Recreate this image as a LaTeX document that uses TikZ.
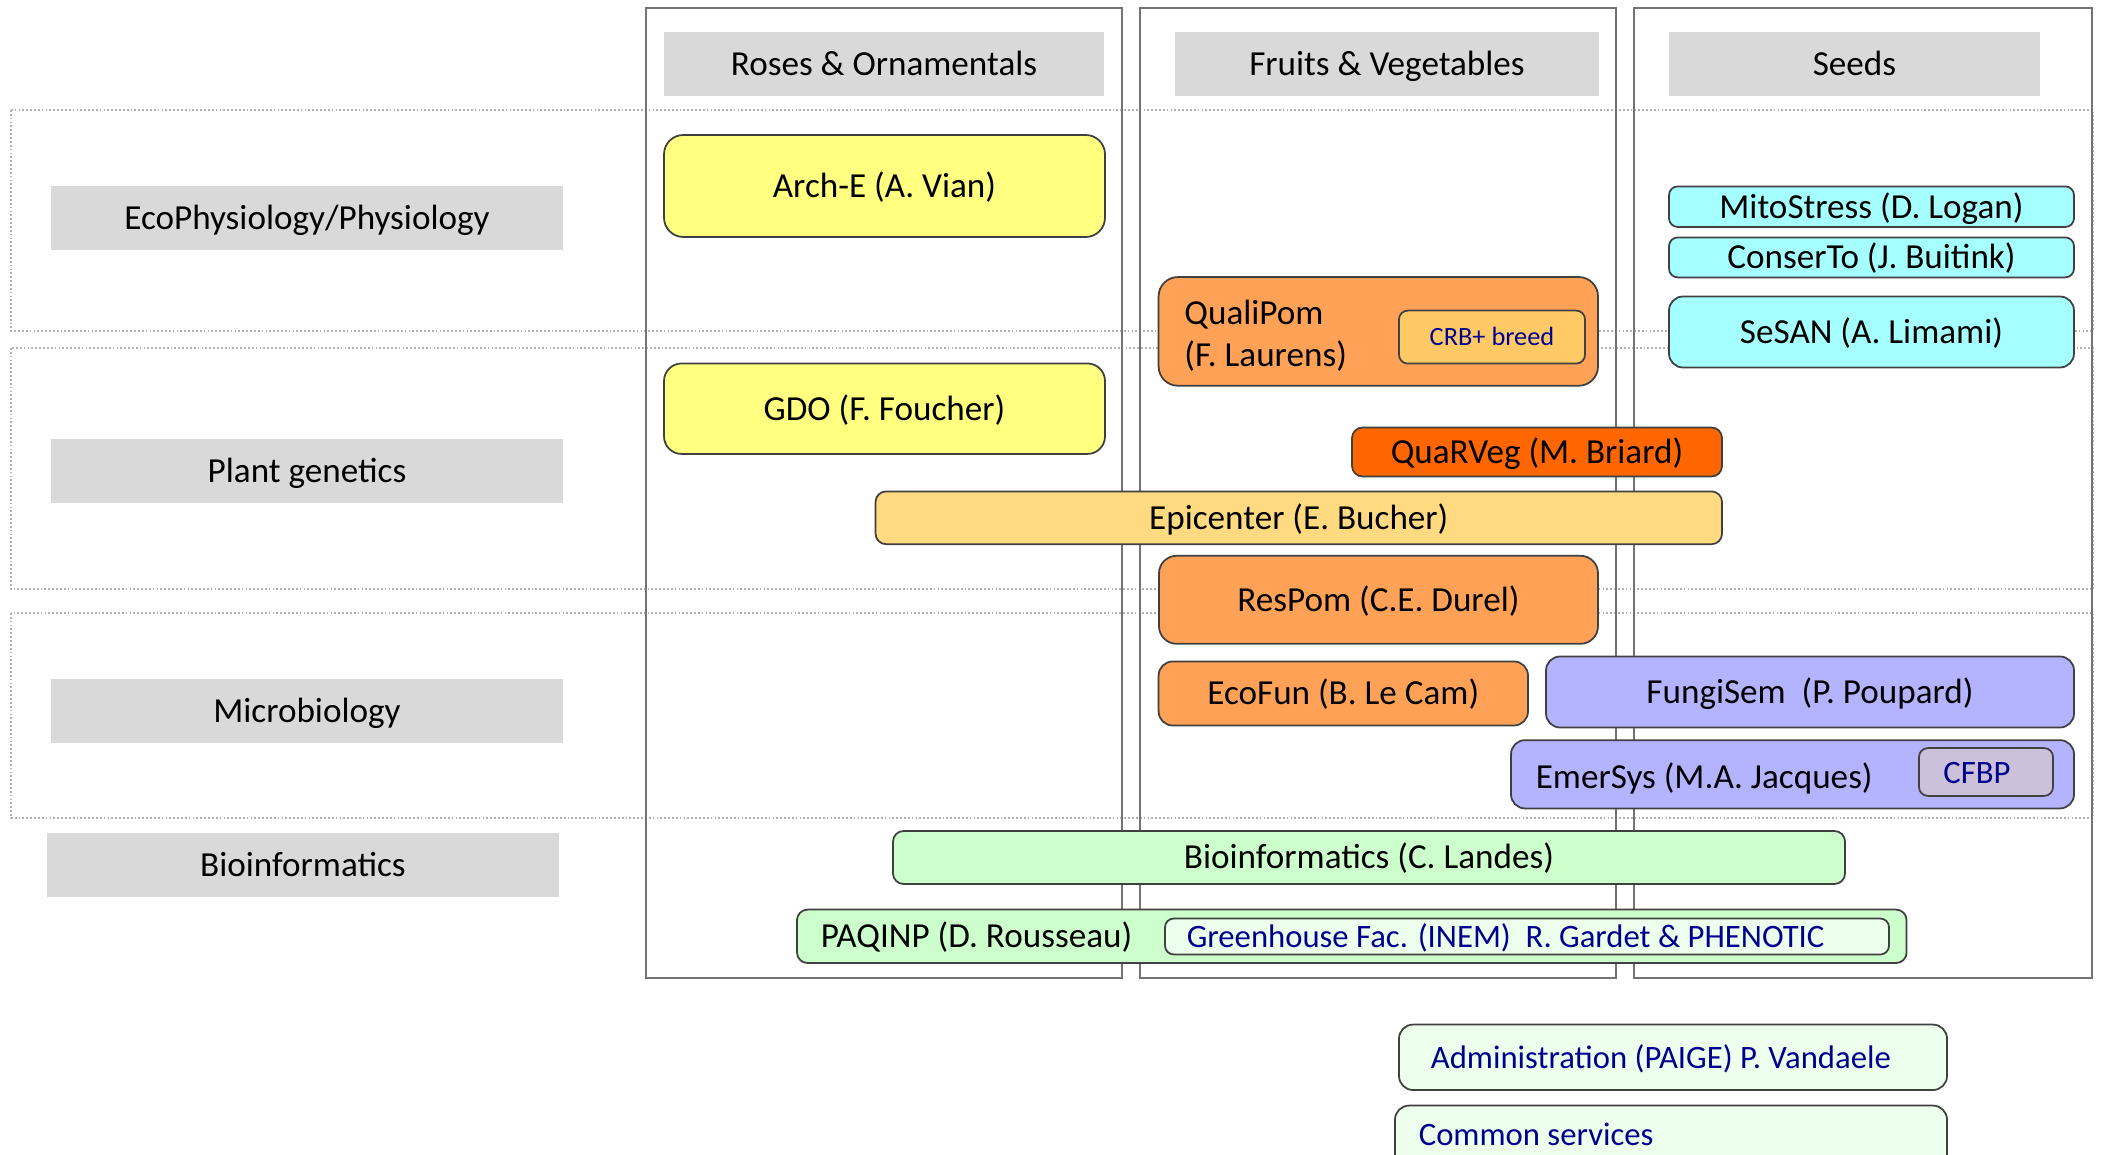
\documentclass[tikz,border=0pt]{standalone}
\usepackage{fontspec}
\setmainfont{Carlito}
\usepackage{xcolor}
\usepackage{tikz}
\usetikzlibrary{positioning}
\definecolor{headgrey}{HTML}{D9D9D9}
\definecolor{roseyellow}{HTML}{FFFF80}
\definecolor{pomorange}{HTML}{FFA257}
\definecolor{crbfill}{HTML}{FFCA66}
\definecolor{vegorange}{HTML}{FF6600}
\definecolor{epigold}{HTML}{FFDA80}
\definecolor{seedcyan}{HTML}{A6FFFF}
\definecolor{microlav}{HTML}{B3B3FF}
\definecolor{cfbpfill}{HTML}{CCC1DA}
\definecolor{bioinfgreen}{HTML}{CCFFCC}
\definecolor{facgreen}{HTML}{EDFFED}
\definecolor{facblue}{HTML}{000090}
\newcommand{\smallsize}{\fontsize{9.3}{11}\selectfont}

\begin{document}
\begin{tikzpicture}[
  frame/.style={draw=black!55,line width=0.5pt},
  band/.style={draw=black!30,line width=0.4pt,dash pattern=on 0.5pt off 0.6pt},
  capline/.style={text height=6.5pt,text depth=0pt},
  head/.style={fill=headgrey,inner sep=0pt,minimum height=0.64cm,capline},
  proj/.style={draw=black!75,line width=0.5pt,rounded corners=4pt,inner sep=0pt,capline},
  inner/.style={proj,rounded corners=2.5pt},
  txt/.style={inner sep=0pt},
  service/.style={text=facblue,font=\smallsize}]
\clip (0,0) rectangle (21.01,-11.55);

\draw[band] (0.11,-1.10) rectangle (20.93,-3.31);
\draw[band] (0.11,-3.48) rectangle (20.93,-5.89);
\draw[band] (0.11,-6.13) rectangle (20.93,-8.18);
\draw[frame] (6.46,-0.08) rectangle (11.22,-9.78);
\draw[frame] (11.40,-0.08) rectangle (16.16,-9.78);
\draw[frame] (16.34,-0.08) rectangle (20.92,-9.78);

\node[head,minimum width=4.40cm] (roses) at (8.84,-0.64) {Roses \& Ornamentals};
\node[head,minimum width=4.24cm] (fruits) at (13.87,-0.64) {Fruits \& Vegetables};
\node[head,minimum width=3.71cm] (seeds) at (18.545,-0.64) {Seeds};
\node[head,minimum width=5.12cm] (ecophys) at (3.07,-2.18) {EcoPhysiology/Physiology};
\node[head,minimum width=5.12cm] (genetics) at (3.07,-4.71) {Plant genetics};
\node[head,minimum width=5.12cm] (micro) at (3.07,-7.11) {Microbiology};
\node[head,minimum width=5.12cm] (bioinf) at (3.03,-8.65) {Bioinformatics};

\node[proj,fill=roseyellow,minimum width=4.41cm,minimum height=1.02cm,rounded corners=5.5pt] (arche) at (8.845,-1.86) {Arch-E (A. Vian)};
\node[proj,fill=roseyellow,minimum width=4.41cm,minimum height=0.905cm,rounded corners=5pt] (gdo) at (8.845,-4.087) {GDO (F. Foucher)};

\node[proj,fill=pomorange,minimum width=4.394cm,minimum height=1.087cm,rounded corners=5.5pt] (qualipom) at (13.783,-3.314) {};
\node[txt,align=left,right=0.26cm of qualipom.west,yshift=-0.04cm] (qualipom-t) {QualiPom\\(F. Laurens)};
\node[inner,fill=crbfill,minimum width=1.86cm,minimum height=0.53cm,text=facblue,font=\fontsize{7.5}{9}\selectfont,text height=4.9pt] (crb) at (14.92,-3.371) {CRB+ breed};

\node[proj,fill=seedcyan,minimum width=4.05cm,minimum height=0.406cm,rounded corners=2.5pt] (mito) at (18.715,-2.067) {MitoStress (D. Logan)};
\node[proj,fill=seedcyan,minimum width=4.05cm,minimum height=0.40cm,rounded corners=2.5pt] (conserto) at (18.715,-2.574) {ConserTo (J. Buitink)};
\node[proj,fill=seedcyan,minimum width=4.05cm,minimum height=0.71cm] (sesan) at (18.715,-3.32) {SeSAN (A. Limami)};

\node[proj,fill=vegorange,minimum width=3.70cm,minimum height=0.49cm,rounded corners=3pt] (quarveg) at (15.37,-4.52) {QuaRVeg (M. Briard)};
\node[proj,fill=epigold,minimum width=8.465cm,minimum height=0.528cm,rounded corners=3pt] (epicenter) at (12.988,-5.178) {Epicenter (E. Bucher)};
\node[proj,fill=pomorange,minimum width=4.39cm,minimum height=0.88cm,rounded corners=5pt] (respom) at (13.785,-5.998) {ResPom (C.E. Durel)};
\node[proj,fill=pomorange,minimum width=3.694cm,minimum height=0.64cm] (ecofun) at (13.433,-6.935) {EcoFun (B. Le Cam)};

\node[proj,fill=microlav,minimum width=5.28cm,minimum height=0.71cm] (fungisem) at (18.10,-6.92) {FungiSem\ \ (P. Poupard)};
\node[proj,fill=microlav,minimum width=5.63cm,minimum height=0.683cm] (emersys) at (17.925,-7.743) {};
\node[txt,capline,right=0.25cm of emersys.west,yshift=-0.03cm] (emersys-t) {EmerSys (M.A. Jacques)};
\node[inner,fill=cfbpfill,minimum width=1.34cm,minimum height=0.478cm] (cfbp) at (19.86,-7.72) {};
\node[txt,capline,service,right=0.245cm of cfbp.west] (cfbp-t) {CFBP};

\node[proj,fill=bioinfgreen,minimum width=9.52cm,minimum height=0.53cm,rounded corners=3pt] (landes) at (13.69,-8.575) {Bioinformatics (C. Landes)};
\node[proj,fill=bioinfgreen,minimum width=11.096cm,minimum height=0.534cm,rounded corners=3pt] (paqinp) at (13.518,-9.363) {};
\node[txt,capline,right=0.24cm of paqinp.west] (paqinp-t) {PAQINP (D. Rousseau)};
\node[inner,fill=facgreen,minimum width=7.24cm,minimum height=0.36cm] (greenhouse) at (15.27,-9.365) {};
\node[txt,capline,service,right=0.22cm of greenhouse.west] (greenhouse-t) {Greenhouse Fac. (INEM)\ \ R. Gardet \& PHENOTIC};

\node[proj,fill=facgreen,minimum width=5.48cm,minimum height=0.654cm] (admin) at (16.73,-10.573) {};
\node[txt,capline,service,right=0.32cm of admin.west] (admin-t) {Administration (PAIGE) P. Vandaele};
\node[proj,fill=facgreen,minimum width=5.52cm,minimum height=0.654cm] (common) at (16.71,-11.383) {};
\node[txt,capline,service,right=0.24cm of common.west,yshift=0.04cm] (common-t) {Common services};
\end{tikzpicture}
\end{document}
